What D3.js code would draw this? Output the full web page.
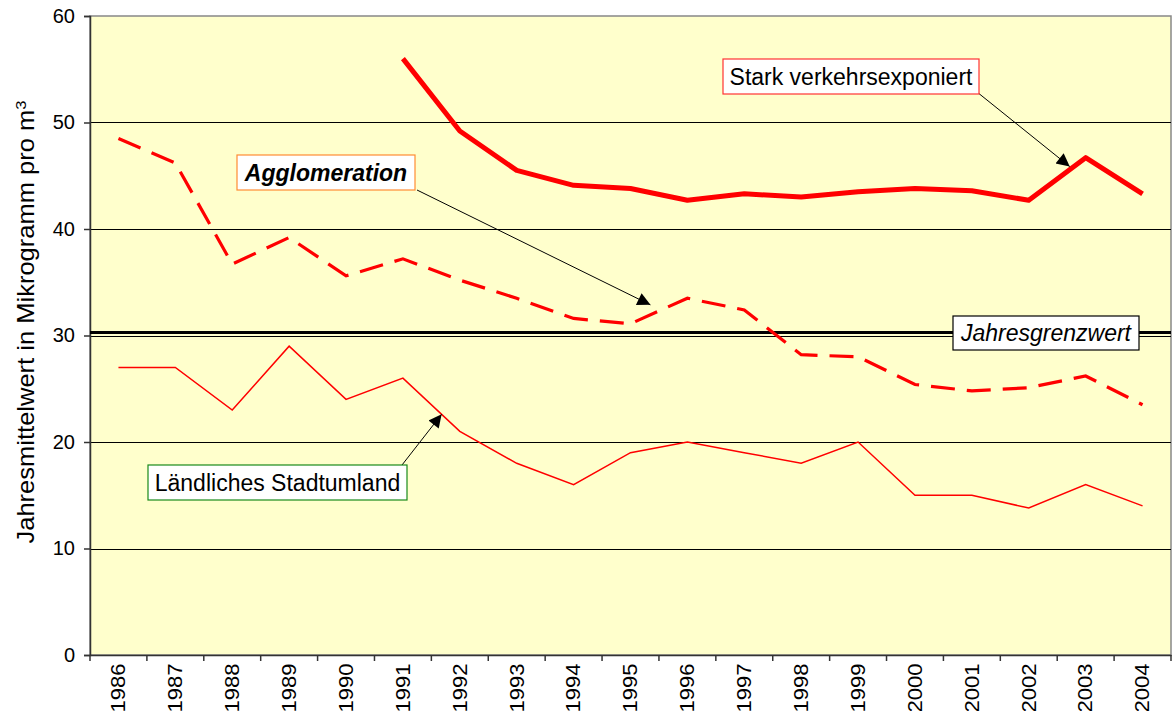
<!DOCTYPE html>
<html>
<head>
<meta charset="utf-8">
<script src="https://cdn.jsdelivr.net/npm/d3@7/dist/d3.min.js"></script>
<style>
  body { margin: 0; background: #fff; }
  text { font-family: "Liberation Sans", Arial, sans-serif; }
</style>
</head>
<body>
<svg id="chart" width="1175" height="711"></svg>
<script>
// data
var years = ["1986","1987","1988","1989","1990","1991","1992","1993","1994","1995",
             "1996","1997","1998","1999","2000","2001","2002","2003","2004"];
var stark = [null,null,null,null,null,56.0,49.2,45.5,44.1,43.8,42.7,43.3,43.0,43.5,43.8,43.6,42.7,46.7,43.3];
var agglo = [48.5,46.2,36.7,39.2,35.6,37.2,35.2,33.5,31.6,31.1,33.5,32.4,28.2,28.0,25.4,24.8,25.1,26.2,23.5];
var laendlich = [27,27,23,29,24,26,21,18,16,19,20,19,18,20,15,15,13.8,16,14];
var grenzwert = 30.3;
var yTicks = [0,10,20,30,40,50,60];

var svg = d3.select("#chart");
var m = {left: 90, top: 16, right: 4, bottom: 56};
var W = 1175, H = 711;

var x = d3.scaleBand().domain(years).range([m.left, W - m.right]);
var y = d3.scaleLinear().domain([0, 60]).range([H - m.bottom, m.top]);
var cx = function(i) { return x(years[i]) + x.bandwidth() / 2; };

// plot background
svg.append("rect")
    .attr("x", m.left).attr("y", m.top)
    .attr("width", W - m.right - m.left).attr("height", H - m.bottom - m.top)
    .attr("fill", "#ffffcc").attr("stroke", "#888").attr("stroke-width", 1.5);

// gridlines
svg.append("g").selectAll("line")
    .data(yTicks.filter(function(d) { return d > 0 && d < 60; }))
    .join("line")
    .attr("x1", m.left).attr("x2", W - m.right)
    .attr("y1", function(d) { return Math.round(y(d)) + 0.5; })
    .attr("y2", function(d) { return Math.round(y(d)) + 0.5; })
    .attr("stroke", "#000").attr("stroke-width", 1);

// axes
var yAxis = svg.append("g")
    .attr("transform", "translate(" + m.left + ",0)")
    .call(d3.axisLeft(y).tickValues(yTicks).tickSize(6).tickPadding(9));
yAxis.selectAll("text").attr("font-size", 20).attr("fill", "#000")
    .style("font-family", "Liberation Sans, Arial, sans-serif");
yAxis.selectAll("line, path").attr("stroke", "#333").attr("stroke-width", 1.5);

var xAxis = svg.append("g")
    .attr("transform", "translate(0," + (H - m.bottom) + ")")
    .call(d3.axisBottom(x).tickSize(0).tickPadding(0));
xAxis.select(".domain").attr("stroke", "#333").attr("stroke-width", 1.5);
// the reference text is stretched vertically a little
xAxis.selectAll("text")
    .attr("font-size", 19.5).attr("fill", "#000")
    .style("font-family", "Liberation Sans, Arial, sans-serif")
    .attr("transform", "rotate(-90) scale(1.13,1)")
    .attr("text-anchor", "end").attr("dy", "0.35em")
    .attr("x", -7.5).attr("y", 0);
// tick marks between categories
svg.append("g").selectAll("line")
    .data(d3.range(years.length + 1))
    .join("line")
    .attr("x1", function(i) { return m.left + i * x.bandwidth(); })
    .attr("x2", function(i) { return m.left + i * x.bandwidth(); })
    .attr("y1", H - m.bottom).attr("y2", H - m.bottom + 6)
    .attr("stroke", "#333").attr("stroke-width", 1.5);

// y axis title
svg.append("text")
    .attr("transform", "translate(34,322) rotate(-90) scale(1.11,1)")
    .attr("text-anchor", "middle")
    .attr("font-size", 23)
    .text("Jahresmittelwert in Mikrogramm pro m")
    .append("tspan").attr("baseline-shift", "super").attr("font-size", 15).text("3");

// limit line
svg.append("line")
    .attr("x1", m.left).attr("x2", W - m.right)
    .attr("y1", Math.round(y(grenzwert)) + 0.5).attr("y2", Math.round(y(grenzwert)) + 0.5)
    .attr("stroke", "#000").attr("stroke-width", 3);

// series
var line = d3.line()
    .defined(function(d) { return d != null; })
    .x(function(d, i) { return cx(i); })
    .y(function(d) { return y(d); });

svg.append("path").datum(laendlich).attr("d", line)
    .attr("fill", "none").attr("stroke", "#ff0000").attr("stroke-width", 1.5);
svg.append("path").datum(agglo).attr("d", line)
    .attr("fill", "none").attr("stroke", "#ff0000").attr("stroke-width", 3.2)
    .attr("stroke-dasharray", "24,12");
svg.append("path").datum(stark).attr("d", line)
    .attr("fill", "none").attr("stroke", "#ff0000").attr("stroke-width", 5)
    .attr("stroke-linejoin", "round");

// arrowheads
var defs = svg.append("defs");
defs.append("marker").attr("id", "arr")
    .attr("viewBox", "0 0 10 10").attr("refX", 10).attr("refY", 5)
    .attr("markerWidth", 17).attr("markerHeight", 13).attr("markerUnits", "userSpaceOnUse")
    .attr("orient", "auto")
    .append("path").attr("d", "M0,0 L10,5 L0,10 z").attr("fill", "#000");

function arrow(x1, y1, x2, y2) {
    svg.append("line")
        .attr("x1", x1).attr("y1", y1).attr("x2", x2).attr("y2", y2)
        .attr("stroke", "#000").attr("stroke-width", 1)
        .attr("marker-end", "url(#arr)");
}
// point on a series segment between index i and i+1
function onSeg(s, i, t) {
    return [cx(i) + (cx(i + 1) - cx(i)) * t, y(s[i] + (s[i + 1] - s[i]) * t)];
}
var pS = onSeg(stark, 16, 0.72), pA = onSeg(agglo, 9, 0.35), pL = onSeg(laendlich, 5, 0.68);
arrow(977, 92, pS[0], pS[1] - 3);
arrow(417, 190, pA[0], pA[1] - 10);
arrow(402, 465, pL[0], pL[1]);

// label boxes
function label(txt, bx, by, bw, bh, border, style, weight) {
    svg.append("rect").attr("x", bx).attr("y", by).attr("width", bw).attr("height", bh)
        .attr("fill", "#fff").attr("stroke", border).attr("stroke-width", 1.2);
    svg.append("text").attr("x", bx + bw / 2).attr("y", by + bh / 2)
        .attr("dy", "0.35em").attr("text-anchor", "middle")
        .attr("font-size", 23).attr("font-style", style).attr("font-weight", weight)
        .text(txt);
}
label("Stark verkehrsexponiert", 723, 59, 256, 35, "#ff3333", "normal", "normal");
label("Agglomeration", 237, 155, 178, 35, "#ff8c33", "italic", "bold");
label("Jahresgrenzwert", 953, 316, 186, 34, "#000", "italic", "normal");
label("Ländliches Stadtumland", 148, 465, 259, 35, "#1a8a1a", "normal", "normal");
</script>
</body>
</html>
